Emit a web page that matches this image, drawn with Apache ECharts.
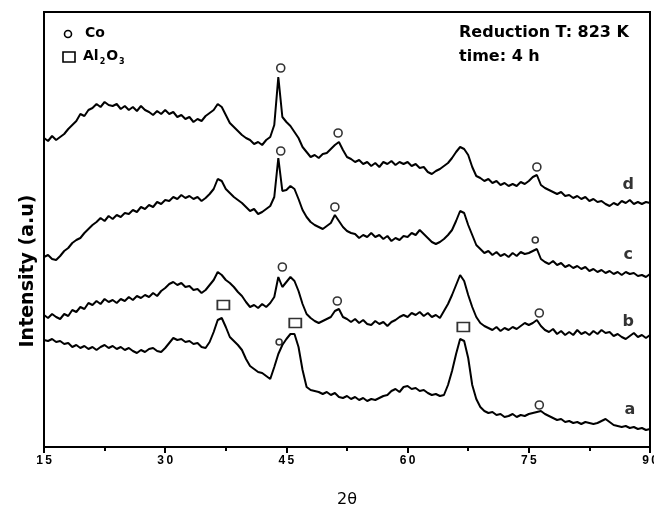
<!DOCTYPE html>
<html>
<head>
<meta charset="utf-8">
<script src="https://cdn.jsdelivr.net/npm/echarts@6/dist/echarts.min.js"></script>
<style>html,body{margin:0;padding:0;background:#fff;}#c{width:654px;height:506px;}</style>
</head>
<body>
<div id="c"></div>
<script>
// 2θ sampling grid: 15 to 90 step 0.5
const thetaStart = 15, thetaStep = 0.5;
const seriesNames = ['a', 'b', 'c', 'd'];

const intensityA = [107,106,108,105,106,103,104,100,102,99,101,98,100,97,100,102,99,101,98,100,97,99,96,94,97,95,98,99,96,95,99,104,109,107,108,105,106,103,104,100,99,105,115,127,129,120,110,106,102,97,88,81,78,75,74,71,68,80,93,102,108,113,113,100,77,60,57,56,55,53,55,52,54,50,49,51,48,50,47,49,46,48,47,49,51,52,56,58,55,60,61,58,59,56,57,54,52,53,51,52,62,76,93,108,106,89,62,48,40,36,34,35,32,33,30,31,33,30,32,31,33,34,35,36,33,31,29,27,28,25,26,24,25,23,25,24,23,24,26,28,25,22,21,20,21,19,20,18,19,17,18];
const intensityB = [132,129,133,130,128,133,131,137,135,140,138,144,142,146,143,148,145,147,144,148,146,150,147,151,149,152,150,154,151,156,159,163,165,162,164,160,161,157,158,154,157,162,167,175,172,167,164,160,155,151,145,140,142,139,143,140,144,150,170,160,165,170,166,156,143,133,129,126,124,126,128,130,136,138,130,128,125,128,124,127,123,122,126,123,125,121,125,127,130,132,130,134,132,135,131,134,130,132,129,136,143,152,162,172,166,152,140,130,124,121,119,117,120,116,119,117,120,118,121,124,122,124,127,121,117,115,118,113,116,112,115,112,117,113,115,112,116,113,117,114,115,111,113,110,108,111,114,110,112,109,112];
const intensityC = [190,192,188,187,191,196,199,204,207,209,214,218,222,225,229,226,231,228,232,230,234,233,237,235,240,238,242,240,245,243,247,246,250,248,252,249,251,248,250,246,249,253,258,268,266,258,254,250,247,244,240,236,238,233,235,238,241,250,289,256,257,261,258,248,237,230,225,222,220,218,221,224,232,226,220,216,214,213,209,212,210,214,210,212,208,211,206,209,207,211,210,214,212,217,213,209,205,203,205,208,212,217,226,236,234,222,212,202,198,194,196,192,195,191,193,190,194,191,195,193,194,196,198,188,185,183,186,182,184,180,182,179,181,178,180,176,178,175,177,174,176,173,175,172,175,173,174,171,172,170,173];
const intensityD = [309,306,311,307,310,313,318,322,326,333,331,337,339,343,340,345,342,341,343,338,341,337,340,336,341,337,335,332,336,333,337,333,335,330,332,328,330,325,328,326,331,334,337,343,340,332,324,320,316,312,309,307,303,305,302,307,310,322,370,330,325,321,315,309,300,295,290,292,289,293,294,298,302,305,297,290,288,285,287,283,285,281,284,280,285,283,286,282,285,283,285,281,283,279,280,275,273,276,278,281,284,289,295,300,298,292,280,271,269,266,268,264,266,262,264,261,263,261,265,263,266,270,272,262,259,257,255,253,255,251,252,249,251,248,250,246,248,245,246,243,241,244,242,246,244,247,243,245,243,245,244];

// peak annotation markers [2θ, intensity]
const coMarks = [[44.3,379],[51.4,314],[76.0,280],[44.3,296],[51.0,240],[44.5,180],[51.3,146],[76.3,134],[76.3,42]];
const coMarksSmall = [[75.8,207],[44.1,105]];
const alMarks = [[37.2,142],[46.1,124],[66.9,120]];
// trace label positions [2θ, intensity]
const traceLabelPos = [[87.5,37],[87.3,125],[87.3,192],[87.3,262]];

const xTicks = [15, 30, 45, 60, 75, 90];

const twoTheta = intensityA.map((_, i) => thetaStart + i * thetaStep);
const allY = [intensityA, intensityB, intensityC, intensityD];

const chart = echarts.init(document.getElementById('c'), null, {renderer: 'canvas'});
const FONT = 'Liberation Sans, Arial, sans-serif';
const DFONT = 'DejaVu Sans, sans-serif';

const lineSeries = allY.map((ys, k) => ({
  type: 'line',
  name: seriesNames[k],
  data: ys.map((v, i) => [twoTheta[i], v]),
  showSymbol: false,
  symbol: 'none',
  lineStyle: {color: '#000', width: 2},
  z: 3
}));

const option = {
  animation: false,
  backgroundColor: '#fff',
  grid: {left: 44, right: 4, top: 12, bottom: 59, containLabel: false, outerBoundsMode: 'none',
    show: true, borderColor: '#000', borderWidth: 2, backgroundColor: 'transparent'},
  xAxis: {
    type: 'value', min: 15, max: 90, interval: 15,
    name: '2θ', nameLocation: 'middle', nameGap: 45,
    nameTextStyle: {fontFamily: DFONT, fontSize: 16, color: '#000'},
    axisLine: {show: true, lineStyle: {color: '#000', width: 2}},
    axisTick: {show: true, inside: false, length: 6, lineStyle: {color: '#000', width: 2}},
    minorTick: {show: true, splitNumber: 2, length: 4, lineStyle: {color: '#000', width: 2}},
    axisLabel: {color: '#000', fontFamily: FONT, fontWeight: 'bold', fontSize: 12, margin: 8,
      formatter: v => xTicks.includes(v) ? String(v).split('').join('\u2009') : ''},
    splitLine: {show: false}
  },
  yAxis: {
    type: 'value', min: 0, max: 435,
    axisLine: {show: true, lineStyle: {color: '#000', width: 2}},
    axisTick: {show: false}, axisLabel: {show: false}, splitLine: {show: false}
  },
  series: lineSeries.concat([
    {type: 'scatter', name: 'Co', data: coMarks, symbol: 'circle', symbolSize: 8,
      itemStyle: {color: '#fff', borderColor: '#000', borderWidth: 1.6}, z: 5},
    {type: 'scatter', name: 'Co small', data: coMarksSmall, symbol: 'circle', symbolSize: 6,
      itemStyle: {color: '#fff', borderColor: '#000', borderWidth: 1.6}, z: 5},
    {type: 'scatter', name: 'Al2O3', data: alMarks, symbol: 'rect', symbolSize: [12, 9],
      itemStyle: {color: '#fff', borderColor: '#000', borderWidth: 1.6}, z: 5},
    {type: 'scatter', name: 'labels', symbolSize: 1, z: 6,
      itemStyle: {color: 'transparent'},
      data: traceLabelPos.map((p, k) => ({value: p, name: seriesNames[k]})),
      label: {show: true, position: 'inside', formatter: p => p.name, color: '#000',
        textBorderWidth: 0, fontFamily: DFONT, fontWeight: 'bold', fontSize: 16}}
  ]),
  graphic: [
    {type: 'text', x: 28, y: 271, rotation: Math.PI / 2, style: {
      text: 'Intensity (a.u)', fill: '#000', font: 'bold 19px ' + DFONT, align: 'center', verticalAlign: 'middle'}},
    {type: 'circle', shape: {cx: 68, cy: 34, r: 3.5}, style: {fill: '#fff', stroke: '#000', lineWidth: 1.6}},
    {type: 'text', left: 85, top: 26, style: {text: 'Co', fill: '#000', font: 'bold 14px ' + DFONT}},
    {type: 'rect', shape: {x: 63, y: 52, width: 12, height: 10}, style: {fill: '#fff', stroke: '#000', lineWidth: 1.6}},
    {type: 'text', left: 83, top: 49, style: {
      text: '{m|Al}{s|2}{m|O}{s|3}', fill: '#000',
      rich: {m: {font: 'bold 14px ' + DFONT, fill: '#000'}, s: {font: 'bold 8px ' + DFONT, fill: '#000', padding: [12, 1, 0, 1]}}
    }},
    {type: 'text', left: 459, top: 25, style: {text: 'Reduction T: 823 K', fill: '#000', font: 'bold 16px ' + DFONT}},
    {type: 'text', left: 459, top: 49, style: {text: 'time: 4 h', fill: '#000', font: 'bold 16px ' + DFONT}}
  ]
};
chart.setOption(option);
</script>
</body>
</html>
